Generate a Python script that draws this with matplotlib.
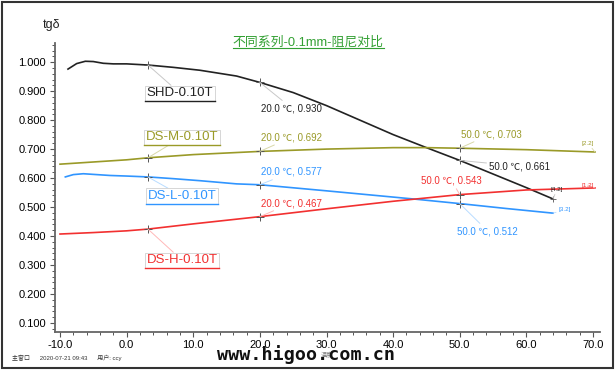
import numpy as np
import matplotlib
matplotlib.use("Agg")
import matplotlib.pyplot as plt
from matplotlib.ticker import MultipleLocator, FormatStrFormatter
from matplotlib.patches import Rectangle
from matplotlib.lines import Line2D

plt.rcParams['font.family'] = ['Liberation Sans', 'Noto Sans CJK SC', 'DejaVu Sans']

# data
temp_shd = [-8.8, -7.5, -6.2, -5.0, -3.5, -2.0, 0.0, 3.2, 7.0, 11.0, 16.5, 20.0,
            25.0, 30.0, 35.0, 40.0, 45.0, 50.0, 55.0, 60.0, 64.0]
tg_shd = [0.976, 0.995, 1.003, 1.002, 0.996, 0.994, 0.994, 0.990, 0.982, 0.972, 0.952, 0.930,
          0.895, 0.850, 0.800, 0.750, 0.705, 0.661, 0.614, 0.567, 0.528]

temp_dsm = [-10.0, 0.0, 3.2, 10.0, 20.0, 30.0, 40.0, 45.0, 50.0, 60.0, 70.3]
tg_dsm = [0.648, 0.663, 0.670, 0.681, 0.692, 0.700, 0.705, 0.705, 0.703, 0.698, 0.690]

temp_dsl = [-9.2, -8.0, -6.5, -4.5, -2.5, 0.0, 3.2, 7.0, 11.0, 16.5, 20.0,
            30.0, 43.0, 50.0, 57.0, 64.0]
tg_dsl = [0.604, 0.612, 0.615, 0.612, 0.609, 0.607, 0.604, 0.598, 0.591, 0.580, 0.577,
          0.556, 0.528, 0.512, 0.495, 0.479]

temp_dsh = [-10.0, -5.0, 0.0, 3.2, 10.0, 20.0, 30.0, 40.0, 50.0, 60.0, 70.3]
tg_dsh = [0.407, 0.412, 0.418, 0.424, 0.442, 0.467, 0.494, 0.520, 0.543, 0.559, 0.566]

series_names = ['SHD-0.10T', 'DS-M-0.10T', 'DS-L-0.10T', 'DS-H-0.10T']
series_colors = ['#222222', '#9a9a28', '#3095ff', '#f23030']
leader_colors = ['#c8c8c8', '#d8d8a8', '#b8dcff', '#ffb8b8']
end_tags = ['[4.2]', '[2.2]', '[3.2]', '[1.2]']
mark_temps = [3.2, 20.0, 50.0]

yticks = [0.1, 0.2, 0.3, 0.4, 0.5, 0.6, 0.7, 0.8, 0.9, 1.0]
xticks = [-10, 0, 10, 20, 30, 40, 50, 60, 70]

all_t = [temp_shd, temp_dsm, temp_dsl, temp_dsh]
all_v = [tg_shd, tg_dsm, tg_dsl, tg_dsh]

fig = plt.figure(figsize=(6.16, 3.71), dpi=100)
fig.patch.set_facecolor('white')
ax = fig.add_axes([55 / 616, 39 / 371, 545 / 616, 289 / 371])

for t, v, c in zip(all_t, all_v, series_colors):
    ax.plot(t, v, color=c, lw=1.2, zorder=3)
    t = np.array(t)
    v = np.array(v)
    m = np.isin(t, mark_temps)
    ax.plot(t[m], v[m], ls='none', marker='+', ms=6, mew=0.7, color='#555555', zorder=4)

ax.plot(temp_shd[-1], tg_shd[-1], ls='none', marker='+', ms=5, mew=0.6, color='#555555', zorder=4)

ax.set_xlim(-10.75, 71.05)
ax.set_ylim(0.069, 1.066)
ax.set_xticks(xticks)
ax.set_yticks(yticks)
ax.xaxis.set_minor_locator(MultipleLocator(2))
ax.yaxis.set_minor_locator(MultipleLocator(0.02))
ax.xaxis.set_major_formatter(FormatStrFormatter('%.1f'))
ax.yaxis.set_major_formatter(FormatStrFormatter('%.3f'))
ax.tick_params(which='major', length=3.5, width=0.8, color='#555555', labelsize=8, pad=3)
ax.tick_params(axis='x', which='major', pad=2)
ax.tick_params(which='minor', length=2, width=0.7, color='#555555')
for s in ['top', 'right']:
    ax.spines[s].set_visible(False)
for s in ['left', 'bottom']:
    ax.spines[s].set_color('#666666')
    ax.spines[s].set_linewidth(1.3)

# series name labels
name_pos = [(8.0, 0.893), (8.3, 0.741), (8.3, 0.538), (8.3, 0.317)]
name_boxes = []
for i in range(4):
    t = np.array(all_t[i])
    v = np.array(all_v[i])
    k = np.where(t == 3.2)[0][0]
    a = ax.annotate(series_names[i], xy=(t[k], v[k]), xytext=name_pos[i],
                    ha='center', va='center', fontsize=9.5, color=series_colors[i],
                    bbox=dict(boxstyle='square,pad=0.12', fc='white', ec='#d0d0d0', lw=0.6),
                    arrowprops=dict(arrowstyle='-', color=leader_colors[i], lw=0.7,
                                    shrinkA=0, shrinkB=0), zorder=5)
    name_boxes.append((a, series_colors[i]))

# value callouts
callouts = [
    (0, 20.0, (24.8, 0.841)), (0, 50.0, (59.0, 0.641)),
    (1, 20.0, (24.8, 0.741)), (1, 50.0, (54.7, 0.752)),
    (2, 20.0, (24.8, 0.621)), (2, 50.0, (54.2, 0.417)),
    (3, 20.0, (24.8, 0.514)), (3, 50.0, (48.8, 0.590)),
]
for i, tx, pos in callouts:
    t = np.array(all_t[i])
    v = np.array(all_v[i])
    k = np.where(t == tx)[0][0]
    ax.annotate('%.1f ℃, %.3f' % (t[k], v[k]), xy=(t[k], v[k]), xytext=pos,
                ha='center', va='center', fontsize=7, color=series_colors[i],
                arrowprops=dict(arrowstyle='-', color=leader_colors[i], lw=0.7,
                                shrinkA=0, shrinkB=0), zorder=5)

tag_pos = [(64.6, 0.562), (69.2, 0.721), (65.8, 0.490), (69.2, 0.576)]
for i in range(4):
    ax.annotate(end_tags[i], xy=(all_t[i][-1], all_v[i][-1]), xytext=tag_pos[i],
                ha='center', va='center', fontsize=4.5, color=series_colors[i],
                arrowprops=dict(arrowstyle='-', color=leader_colors[i], lw=0.6,
                                shrinkA=0, shrinkB=0), zorder=5)

title = fig.text(308 / 616, 1 - 42 / 371, '不同系列-0.1mm-阻尼对比', ha='center', va='center',
                 fontsize=9.3, color='#33a033')
fig.text(52 / 616, 1 - 25 / 371, 'tgδ', ha='center', va='center', fontsize=9, color='#222222')
fig.text(327 / 616, 1 - 354 / 371, '温度', ha='center', va='center', fontsize=4.5, color='#777777',
         zorder=1)
fig.text(306 / 616, 1 - 355 / 371, 'www.higoo.com.cn', ha='center', va='center',
         fontsize=13.2, fontweight='bold', family=['DejaVu Sans Mono'], color='#111111', zorder=2)
fig.text(12 / 616, 1 - 358 / 371, '主窗口      2020-07-21 09:43      用户: ccy', ha='left', va='center',
         fontsize=4.3, color='#333333')

fig.add_artist(Rectangle((2 / 616, 3 / 371), 611 / 616, 366 / 371, transform=fig.transFigure,
                         fill=False, ec='#333333', lw=1.5))

# underlines under title and name boxes
fig.canvas.draw()
r = fig.canvas.get_renderer()
inv = fig.transFigure.inverted()
bb = title.get_window_extent(r)
(x0, y0), (x1, y1) = inv.transform([(bb.x0, bb.y0), (bb.x1, bb.y1)])
fig.add_artist(Line2D([x0, x1], [y0 + 0.002, y0 + 0.002], transform=fig.transFigure,
                      color='#33a033', lw=0.8))
for a, c in name_boxes:
    bb = a.get_bbox_patch().get_window_extent(r)
    (x0, y0), (x1, y1) = inv.transform([(bb.x0, bb.y0), (bb.x1, bb.y1)])
    fig.add_artist(Line2D([x0, x1], [y0, y0], transform=fig.transFigure, color=c, lw=1.0))

fig.savefig('out.png', dpi=100)
